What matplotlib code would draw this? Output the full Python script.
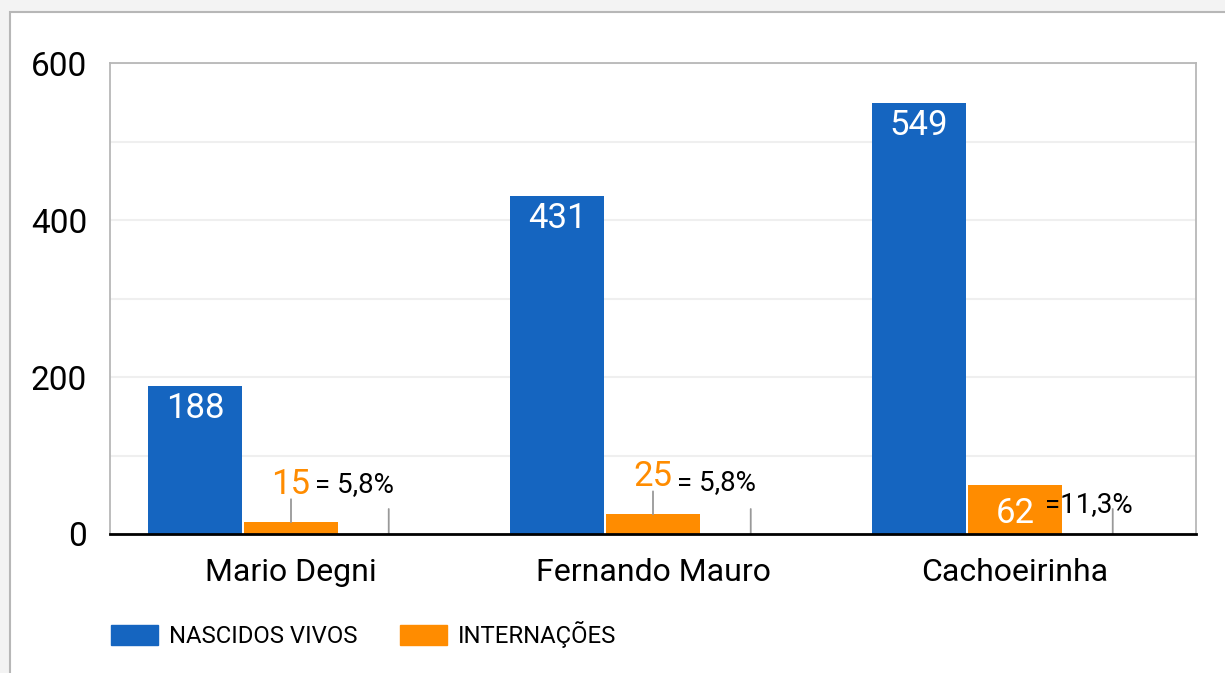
import matplotlib.pyplot as plt
from matplotlib.patches import Rectangle, Patch
import numpy as np

plt.rcParams['font.family'] = ['Roboto', 'DejaVu Sans']

# data
units = ["Mario Degni", "Fernando Mauro", "Cachoeirinha"]
nascidos = [188, 431, 549]
internacoes = [15, 25, 62]
percent_labels = ["= 5,8%", "= 5,8%", "=11,3%"]

BLUE = "#1565c0"
ORANGE = "#ff8c00"
W, H = 1225, 673

fig = plt.figure(figsize=(W / 100, H / 100), dpi=100, facecolor="#f3f3f3")
# white card with grey border
fig.patches.append(Rectangle((10 / W, -0.1), 1.2, (H - 12) / H + 0.1,
                             transform=fig.transFigure, facecolor="white",
                             edgecolor="#b7b7b7", linewidth=1.5, zorder=-10))

ax = fig.add_axes([110 / W, (H - 534) / H, 1086 / W, 471 / H])
ax.set_facecolor("white")

x = np.arange(len(units))
bw = 0.26
ax.bar(x - 0.265, nascidos, bw, color=BLUE, zorder=3)
ax.bar(x, internacoes, bw, color=ORANGE, zorder=3)

ax.set_xlim(-0.5, 2.5)
ax.set_ylim(0, 600)
ax.set_yticks(range(0, 601, 200))
ax.set_yticks(range(100, 601, 200), minor=True)
ax.grid(axis="y", which="both", color="#efefef", linewidth=1.5, zorder=0)
ax.tick_params(axis="y", which="both", length=0, pad=16.5, labelsize=24)
ax.set_xticks(x)
ax.set_xticklabels(units)
ax.tick_params(axis="x", length=0, pad=17, labelsize=23)

for s in ["left", "right", "top"]:
    ax.spines[s].set_color("#b7b7b7")
    ax.spines[s].set_linewidth(1.3)
ax.spines["bottom"].set_color("black")
ax.spines["bottom"].set_linewidth(2)
ax.spines["bottom"].set_zorder(5)

# blue value labels inside bars
for xi, v in zip(x, nascidos):
    ax.annotate(str(v), (xi - 0.265, v), xytext=(0, -6), textcoords="offset pixels",
                ha="center", va="top", color="white", fontsize=25, zorder=4)

# orange value labels
for xi, v in zip(x, internacoes):
    if v > 40:
        ax.annotate(str(v), (xi, v), xytext=(0, -12), textcoords="offset pixels",
                    ha="center", va="top", color="white", fontsize=25, zorder=4)
    else:
        ax.annotate("", (xi, v), xytext=(0, 23), textcoords="offset pixels",
                    arrowprops=dict(arrowstyle="-", color="#999999", lw=1.3,
                                    shrinkA=0, shrinkB=0))
        ax.annotate(str(v), (xi, v), xytext=(0, 28), textcoords="offset pixels",
                    ha="center", va="baseline", color=ORANGE, fontsize=25, zorder=4)

# percentage annotations (third, empty series)
pct_dx = [5, 5, 20]
pct_dy = [42, 44, 22]
for xi, lab, dx, dy in zip(x, percent_labels, pct_dx, pct_dy):
    ax.annotate("", (xi + 0.27, 0), xytext=(0, 25), textcoords="offset pixels",
                arrowprops=dict(arrowstyle="-", color="#999999", lw=1.3,
                                shrinkA=0, shrinkB=0))
    ax.annotate(lab, (xi + 0.27, 0), xytext=(dx, dy), textcoords="offset pixels",
                ha="right", va="baseline", color="black", fontsize=20, zorder=6)

handles = [Patch(color=BLUE, label="NASCIDOS VIVOS"),
           Patch(color=ORANGE, label="INTERNAÇÕES")]
fig.legend(handles=handles, loc="upper left", bbox_to_anchor=(111 / W, 1 - 621 / H),
           ncol=2, frameon=False, fontsize=17.2, handlelength=1.95, handleheight=0.93,
           handletextpad=0.47, columnspacing=1.8, borderpad=0, borderaxespad=0)

fig.savefig("out.png", dpi=100, facecolor=fig.get_facecolor())
